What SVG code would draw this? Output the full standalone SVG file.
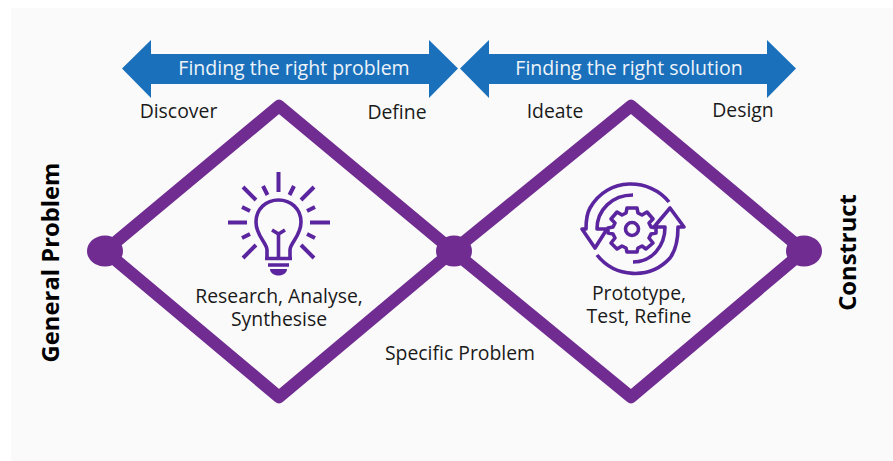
<svg xmlns="http://www.w3.org/2000/svg" width="893" height="461" viewBox="0 0 893 461">
<style>
text{font-family:"Open Sans","Liberation Sans",sans-serif;fill:#1a1a1a;font-size:19.4px;text-anchor:middle}
.w{fill:#eef4fa;font-size:19.5px}
.b{font-weight:700;font-size:23.8px;fill:#000}
.arrow{fill:#1a70bb}
.d{fill:none;stroke:#702c91;stroke-width:12.5;stroke-linejoin:round;stroke-linecap:round}
.dot{fill:#702c91}
.i{fill:none;stroke:#5b259f;stroke-width:3.6;stroke-linejoin:round}
.r{fill:none;stroke:#5b259f;stroke-width:4}
.if{fill:#5b259f}
</style>
<rect x="11" y="8" width="882" height="453" fill="#fafafa"/>
<g id="arrow-problem"><path class="arrow" d="M122 68.500L151 40V54H429V40L458 68.500L429 98V84H151V98Z"/><text class="w" x="294" y="74.500">Finding the right problem</text></g>
<g id="arrow-solution"><path class="arrow" d="M460 68.500L489 40V54H767V40L796 68.500L767 98V84H489V98Z"/><text class="w" x="629" y="74.500">Finding the right solution</text></g>
<g id="connectors">
<path class="d" d="M105 251L279 106L453 251L279 397Z"/>
<path class="d" d="M453 251L631 106L804 251L631 397Z"/>
</g>
<g id="node-left"><ellipse class="dot" cx="105" cy="251" rx="18" ry="15.500"/></g>
<g id="node-mid"><ellipse class="dot" cx="454" cy="251" rx="18" ry="15.500"/></g>
<g id="node-right"><ellipse class="dot" cx="804" cy="251" rx="18" ry="15.500"/></g>
<g id="bulb">
<path class="r" d="M278.500 172V192M243 187L256 200M314 187L301 200M263 186L267.500 195M294 186L289.500 195M242 207L250 211M315 207L307 211M228 222.500H247M310 222.500H330M242 238L250 234M315 238L307 234M243 258L256 245M314 258L301 245"/>
<path class="i" d="M267 258V250C267 243 256 236 256 222C256 209 266 200 278.500 200C291 200 301 209 301 222C301 236 290 243 290 250V258M278.500 258V232M272 230L278.500 234L285 230"/>
<path class="i" d="M265 258.500H292M268 265H289"/>
<path class="if" d="M270 269H287C287 273 283 275.500 278.500 275.500C274 275.500 270 273 270 269Z"/>
</g>
<g id="gear">
<path class="i" d="M669 202C650 178 608 176 590 208C586 215 586 222 586 229H582L595 248L607 229H597C597 210 612 195 633 195"/>
<path class="i" d="M597 255C615 278 650 280 670 258C676 250 678 238 678 227H684L670 208L654 227H665C665 246 652 262 633 262"/>
<path class="i" d="M627 208H637L638 213L642 215L647 212L653 219L649 223L651 227L656 228V233L651 234L649 238L653 243L646 249L642 246L638 248L637 252H627L626 248L622 246L617 249L611 243L615 238L613 234L608 233V228L613 227L615 223L611 219L617 212L622 215L626 213Z"/>
<circle class="i" cx="632" cy="229" r="6.500"/>
</g>
<g id="labels">
<text x="178.500" y="118">Discover</text>
<text x="397" y="119">Define</text>
<text x="555" y="118">Ideate</text>
<text x="743" y="117">Design</text>
<text x="279" y="303">Research, Analyse,</text>
<text x="279" y="326">Synthesise</text>
<text x="460" y="360">Specific Problem</text>
<text x="639" y="300">Prototype,</text>
<text x="639" y="323">Test, Refine</text>
<text class="b" transform="translate(59 262.500) rotate(-90)">General Problem</text>
<text class="b" transform="translate(856 252.500) rotate(-90)">Construct</text>
</g>
</svg>
